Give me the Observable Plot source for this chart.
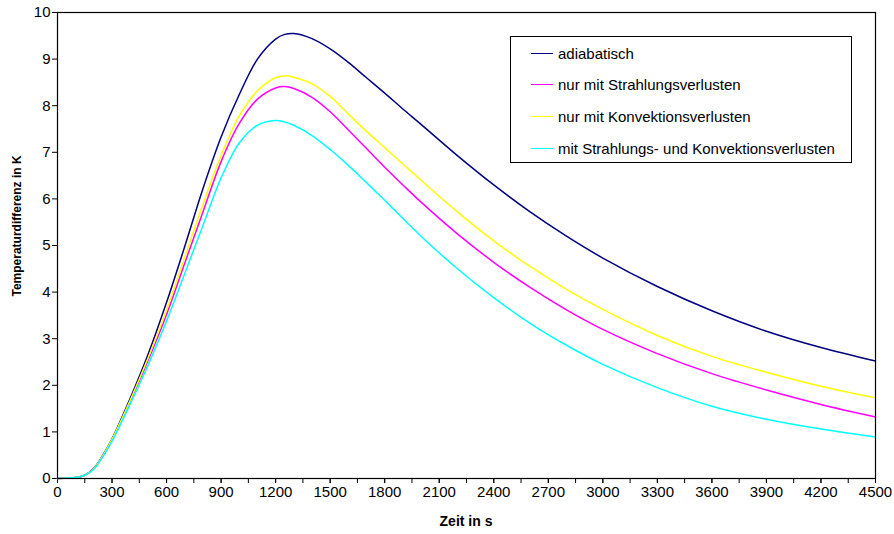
<!DOCTYPE html>
<html>
<head>
<meta charset="utf-8">
<script src="https://cdn.jsdelivr.net/npm/d3@7"></script>
<script src="https://cdn.jsdelivr.net/npm/@observablehq/plot@0.6"></script>
<style>
  html, body { margin: 0; padding: 0; background: #fff; }
  #wrap { position: relative; width: 894px; height: 534px; font-family: "Liberation Sans", Arial, sans-serif; }
  #legend { position: absolute; left: 510px; top: 36px; width: 342px; height: 127px; border: 1px solid #000; background: #fff; box-sizing: border-box; }
  .row { position: absolute; left: 20px; height: 20px; display: flex; align-items: center; font-size: 15px; color: #000; white-space: nowrap; }
  .sw { display: inline-block; width: 22px; height: 1px; margin-right: 5px; }
</style>
</head>
<body>
<div id="wrap"></div>
<script>
// time axis (s)
const times = [0, 100, 150, 200, 250, 300, 400, 500, 600, 700, 800, 900, 1000, 1100, 1200, 1250, 1300, 1400, 1500, 1600, 1700, 1800, 1900, 2000, 2200, 2400, 2600, 2800, 3000, 3300, 3600, 3900, 4200, 4500];
// series values (K)
const adiabatisch = [0, 0.02, 0.07, 0.22, 0.50, 0.85, 1.72, 2.68, 3.78, 4.98, 6.22, 7.33, 8.24, 9.00, 9.43, 9.53, 9.55, 9.44, 9.22, 8.93, 8.60, 8.27, 7.93, 7.60, 6.93, 6.30, 5.72, 5.20, 4.73, 4.12, 3.60, 3.16, 2.81, 2.52];
const strahlung   = [0, 0.02, 0.07, 0.21, 0.49, 0.83, 1.66, 2.55, 3.52, 4.62, 5.72, 6.80, 7.62, 8.14, 8.38, 8.41, 8.37, 8.18, 7.87, 7.48, 7.08, 6.68, 6.30, 5.93, 5.25, 4.64, 4.10, 3.62, 3.20, 2.68, 2.25, 1.90, 1.59, 1.32];
const konvektion  = [0, 0.02, 0.07, 0.21, 0.49, 0.84, 1.68, 2.60, 3.62, 4.75, 5.88, 6.93, 7.78, 8.32, 8.60, 8.64, 8.61, 8.47, 8.20, 7.82, 7.45, 7.10, 6.75, 6.40, 5.72, 5.10, 4.55, 4.06, 3.63, 3.07, 2.62, 2.28, 1.98, 1.73];
const beide       = [0, 0.02, 0.07, 0.20, 0.47, 0.80, 1.60, 2.45, 3.38, 4.40, 5.43, 6.45, 7.20, 7.58, 7.68, 7.65, 7.58, 7.36, 7.06, 6.72, 6.35, 5.97, 5.58, 5.20, 4.50, 3.88, 3.33, 2.86, 2.45, 1.95, 1.55, 1.27, 1.06, 0.89];
const seriesNames  = ["adiabatisch", "nur mit Strahlungsverlusten", "nur mit Konvektionsverlusten", "mit Strahlungs- und Konvektionsverlusten"];
const seriesColors = ["#000080", "#FF00FF", "#FFFF00", "#00FFFF"];
const seriesValues = [adiabatisch, strahlung, konvektion, beide];
const xTicks = d3.range(0, 4501, 300);
const xMinorTicks = d3.range(0, 4501, 150);
const yTicks = d3.range(0, 11, 1);
const xTitle = "Zeit in s";
const yTitle = "Temperaturdifferenz in K";

const data = seriesNames.flatMap((name, k) => times.map((t, i) => ({t, v: seriesValues[k][i], name})));

const chart = Plot.plot({
  width: 894,
  height: 534,
  marginLeft: 57,
  marginRight: 19,
  marginTop: 12,
  marginBottom: 56,
  style: { fontFamily: "'Liberation Sans', Arial, sans-serif", fontSize: "15px", background: "#fff", color: "#000", overflow: "visible" },
  x: { domain: [0, 4500] },
  y: { domain: [0, 10] },
  color: { domain: seriesNames, range: seriesColors },
  marks: [
    Plot.axisX({ ticks: xMinorTicks, tickFormat: () => "", tickSize: 5, label: null, stroke: "#000", strokeOpacity: 1 }),
    Plot.axisX({ ticks: xTicks, tickFormat: d => String(d), tickSize: 5, tickPadding: 3, label: null, stroke: "#000", strokeOpacity: 1, fill: "#000", fontSize: 15 }),
    Plot.axisY({ ticks: yTicks, tickFormat: d => String(d), tickSize: 5, tickPadding: 2, label: null, stroke: "#000", strokeOpacity: 1, fill: "#000", fontSize: 15 }),
    Plot.line(data, { x: "t", y: "v", z: "name", stroke: "name", curve: "catmull-rom", strokeWidth: 1.5 }),
    Plot.frame({ stroke: "#000", strokeWidth: 1.2 })
  ]
});

const wrap = document.getElementById("wrap");
wrap.appendChild(chart);

// axis titles
const sx = chart.scale("x"), sy = chart.scale("y");
const svg = d3.select(chart);
const xc = (sx.range[0] + sx.range[1]) / 2;
const yc = (sy.range[0] + sy.range[1]) / 2 - 19;
svg.append("text").attr("x", xc).attr("y", 526).attr("text-anchor", "middle")
  .attr("font-weight", "bold").attr("font-size", 14).attr("fill", "#000").text(xTitle);
svg.append("text").attr("transform", `translate(20.5,${yc}) rotate(-90)`).attr("text-anchor", "middle")
  .attr("font-weight", "bold").attr("font-size", 12).attr("fill", "#000").text(yTitle);

// legend
const legend = document.createElement("div");
legend.id = "legend";
seriesNames.forEach((name, k) => {
  const row = document.createElement("div");
  row.className = "row";
  row.style.top = (6 + k * 31.7) + "px";
  const sw = document.createElement("span");
  sw.className = "sw";
  sw.style.background = seriesColors[k];
  const tx = document.createElement("span");
  tx.textContent = name;
  row.appendChild(sw);
  row.appendChild(tx);
  legend.appendChild(row);
});
wrap.appendChild(legend);
</script>
</body>
</html>
